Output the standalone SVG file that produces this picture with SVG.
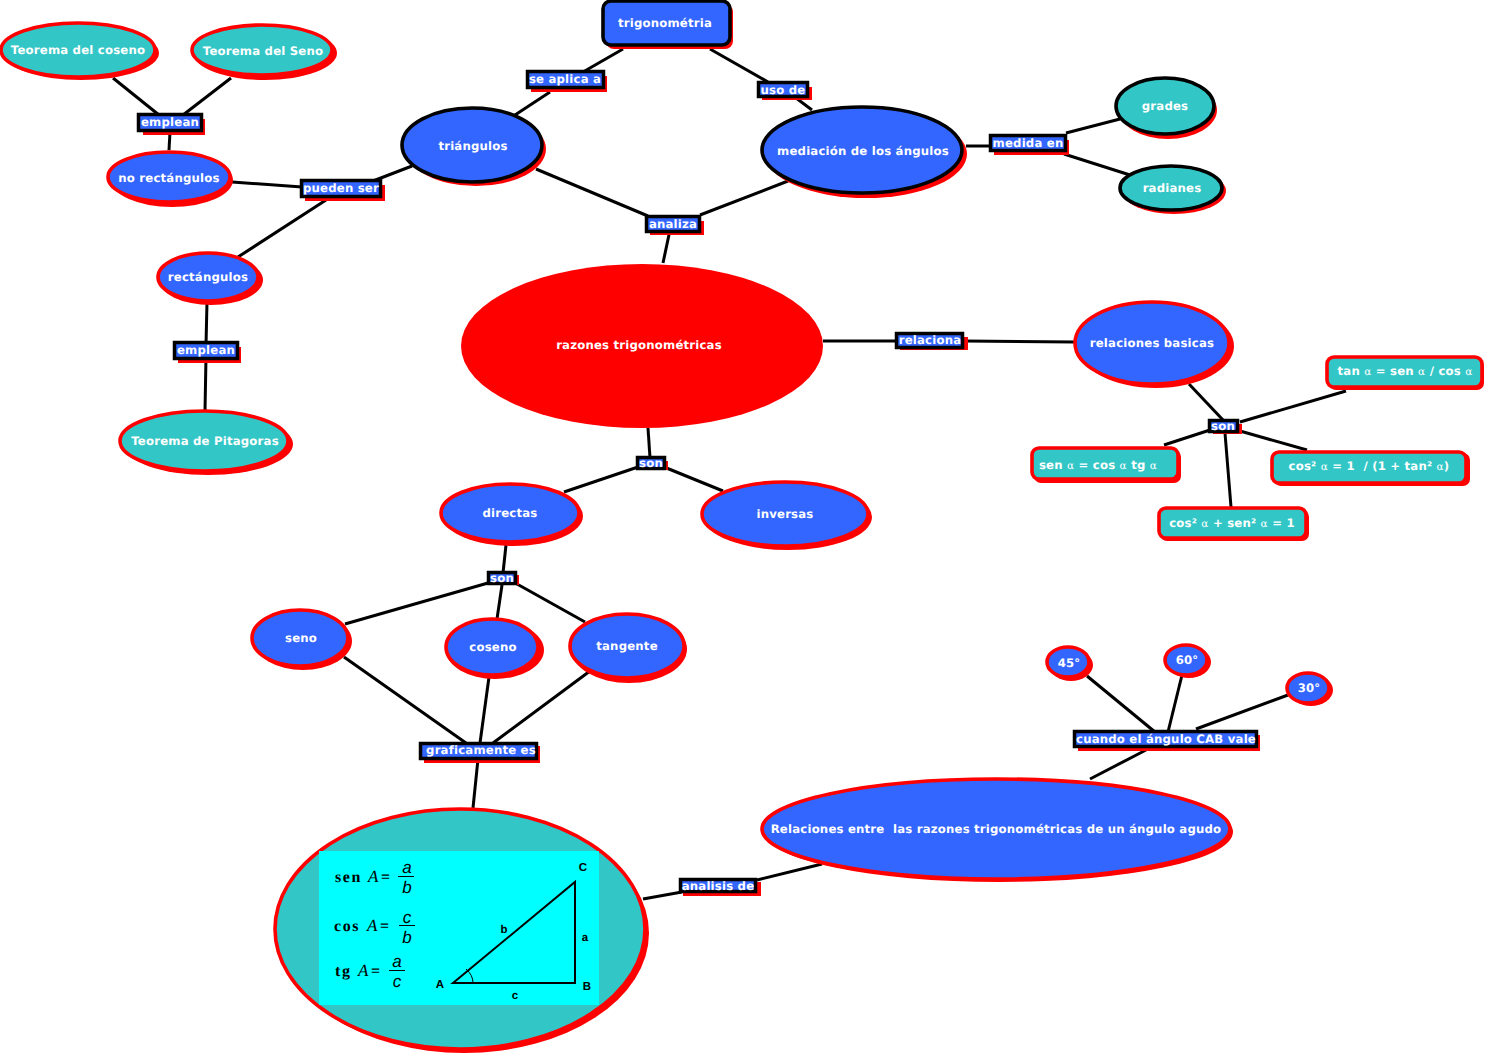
<svg xmlns="http://www.w3.org/2000/svg" width="1489" height="1056" viewBox="0 0 1489 1056">
<style>
text{font-family:"DejaVu Sans","Liberation Sans",sans-serif;font-weight:700;font-size:11.7px;letter-spacing:.2px;fill:#fff;text-anchor:middle;white-space:pre;text-rendering:geometricPrecision}
.c line{stroke:#000;stroke-width:3}
.s{fill:#f00}
.b{fill:#3366ff}
.t{fill:#33c6c6}
.r{stroke:#f00;stroke-width:3.6}
.k{stroke:#000;stroke-width:3.6}
.l{fill:#3366ff;stroke:#000;stroke-width:3.5}
.m text{font-family:"Liberation Serif",serif;font-weight:700;fill:#000;font-size:16px;letter-spacing:1.6px}
.m .i{font-family:"Liberation Sans",sans-serif;font-style:italic;font-weight:400;font-size:17px;letter-spacing:0}
.m .e{font-family:"Liberation Serif",serif;font-style:italic;font-weight:400;font-size:17px;letter-spacing:0;text-anchor:start}
.m .h{font-family:"Liberation Sans",sans-serif;font-weight:700;font-size:11.5px;letter-spacing:0}
.m line{stroke:#000}
.al{font-family:"DejaVu Serif",serif;font-weight:400;font-size:10.5px}
</style>
<g class="c" id="connectors">
<line x1="113" y1="78" x2="159" y2="115"/><line x1="231" y1="78" x2="183" y2="115"/><line x1="170" y1="132" x2="169" y2="150"/>
<line x1="232" y1="182" x2="302" y2="187"/><line x1="373" y1="181" x2="412" y2="166"/><line x1="326" y1="200" x2="238" y2="257"/>
<line x1="207" y1="302" x2="206" y2="345"/><line x1="206" y1="357" x2="205" y2="411"/>
<line x1="623" y1="49" x2="583" y2="72"/><line x1="550" y1="92" x2="515" y2="115"/><line x1="710" y1="49" x2="768" y2="82"/><line x1="796" y1="98" x2="812" y2="110"/>
<line x1="536" y1="169" x2="648" y2="216"/><line x1="700" y1="215" x2="788" y2="181"/><line x1="670" y1="230" x2="663" y2="263"/>
<line x1="966" y1="146" x2="992" y2="146"/><line x1="1066" y1="133" x2="1120" y2="119"/><line x1="1064" y1="154" x2="1130" y2="175"/>
<line x1="823" y1="341" x2="897" y2="341"/><line x1="965" y1="341" x2="1074" y2="342"/>
<line x1="1189" y1="384" x2="1223" y2="420"/><line x1="1240" y1="422" x2="1346" y2="391"/><line x1="1164" y1="445" x2="1210" y2="430"/><line x1="1240" y1="431" x2="1307" y2="450"/><line x1="1225" y1="433" x2="1231" y2="507"/>
<line x1="648" y1="428" x2="650" y2="458"/><line x1="564" y1="492" x2="638" y2="467"/><line x1="664" y1="467" x2="723" y2="491"/>
<line x1="506" y1="545" x2="503" y2="573"/><line x1="345" y1="624" x2="488" y2="583"/><line x1="502" y1="585" x2="497" y2="619"/><line x1="517" y1="584" x2="585" y2="622"/>
<line x1="344" y1="657" x2="466" y2="743"/><line x1="489" y1="677" x2="480" y2="743"/><line x1="590" y1="671" x2="493" y2="743"/><line x1="478" y1="759" x2="473" y2="808"/>
<line x1="643" y1="899" x2="682" y2="892"/><line x1="757" y1="880" x2="822" y2="864"/>
<line x1="1090" y1="779" x2="1146" y2="750"/><line x1="1087" y1="676" x2="1155" y2="732"/><line x1="1182" y1="675" x2="1168" y2="732"/><line x1="1288" y1="695" x2="1196" y2="729"/>
</g>

<g id="n-coseno-t"><ellipse class="s" cx="81" cy="53" rx="78" ry="27"/><ellipse class="t r" cx="78" cy="50" rx="77" ry="27"/><text x="78" y="54">Teorema del coseno</text></g>
<g id="n-seno-t"><ellipse class="s" cx="265" cy="53" rx="72" ry="27"/><ellipse class="t r" cx="262" cy="50" rx="70" ry="25"/><text x="263" y="55">Teorema del Seno</text></g>
<g id="n-no-rect"><ellipse class="s" cx="172" cy="180" rx="61" ry="27"/><ellipse class="b r" cx="169" cy="177" rx="61" ry="25"/><text x="169" y="182">no rectángulos</text></g>
<g id="n-triangulos"><ellipse class="s" cx="476" cy="149" rx="70" ry="37"/><ellipse class="b k" cx="472" cy="145" rx="70" ry="37"/><text x="473" y="150">triángulos</text></g>
<g id="n-trig"><rect class="s" x="606" y="4" width="127" height="45" rx="8"/><rect class="b k" x="603" y="1" width="127" height="44" rx="8"/><text x="665" y="27">trigonométria</text></g>
<g id="n-mediacion"><ellipse class="s" cx="866" cy="154" rx="101" ry="44"/><ellipse class="b k" cx="862" cy="150" rx="100" ry="43"/><text x="863" y="155">mediación de los ángulos</text></g>
<g id="n-grades"><ellipse class="s" cx="1168" cy="110" rx="49" ry="29"/><ellipse class="t k" cx="1165" cy="106" rx="49" ry="28"/><text x="1165" y="110">grades</text></g>
<g id="n-radianes"><ellipse class="s" cx="1174" cy="191" rx="52" ry="23"/><ellipse class="t k" cx="1171" cy="188" rx="51" ry="22"/><text x="1172" y="192">radianes</text></g>
<g id="n-rectangulos"><ellipse class="s" cx="211" cy="280" rx="52" ry="25"/><ellipse class="b r" cx="208" cy="277" rx="50" ry="24"/><text x="208" y="281">rectángulos</text></g>
<g id="n-pitagoras"><ellipse class="s" cx="208" cy="444" rx="85" ry="31"/><ellipse class="t r" cx="204" cy="441" rx="84" ry="30"/><text x="205" y="445">Teorema de Pitagoras</text></g>
<g id="n-razones"><ellipse class="s" cx="642" cy="346" rx="181" ry="82"/><text x="639" y="349">razones trigonométricas</text></g>
<g id="n-relaciones"><ellipse class="s" cx="1156" cy="346" rx="78" ry="42"/><ellipse class="b r" cx="1152" cy="343" rx="77" ry="41"/><text x="1152" y="347">relaciones basicas</text></g>
<g id="n-tan"><rect class="s" x="1329" y="359" width="155" height="31" rx="7"/><rect class="t r" x="1327" y="357" width="155" height="30" rx="7"/><text x="1405" y="375">tan <tspan class="al">α</tspan> = sen <tspan class="al">α</tspan> / cos <tspan class="al">α</tspan></text></g>
<g id="n-sen"><rect class="s" x="1034" y="450" width="147" height="33" rx="7"/><rect class="t r" x="1032" y="448" width="146" height="31" rx="7"/><text x="1098" y="469">sen <tspan class="al">α</tspan> = cos <tspan class="al">α</tspan> tg <tspan class="al">α</tspan></text></g>
<g id="n-cos2"><rect class="s" x="1274" y="453" width="196" height="33" rx="7"/><rect class="t r" x="1272" y="452" width="194" height="31" rx="7"/><text x="1369" y="470">cos² <tspan class="al">α</tspan> = 1  / (1 + tan² <tspan class="al">α</tspan>)</text></g>
<g id="n-pit"><rect class="s" x="1160" y="510" width="149" height="31" rx="7"/><rect class="t r" x="1159" y="508" width="147" height="30" rx="7"/><text x="1232" y="527">cos² <tspan class="al">α</tspan> + sen² <tspan class="al">α</tspan> = 1</text></g>
<g id="n-directas"><ellipse class="s" cx="513" cy="516" rx="70" ry="30"/><ellipse class="b r" cx="510" cy="513" rx="69" ry="29"/><text x="510" y="517">directas</text></g>
<g id="n-inversas"><ellipse class="s" cx="788" cy="517" rx="84" ry="33"/><ellipse class="b r" cx="785" cy="514" rx="83" ry="32"/><text x="785" y="518">inversas</text></g>
<g id="n-seno"><ellipse class="s" cx="303" cy="641" rx="49" ry="29"/><ellipse class="b r" cx="300" cy="638" rx="48" ry="28"/><text x="301" y="642">seno</text></g>
<g id="n-cosenob"><ellipse class="s" cx="495" cy="650" rx="49" ry="29"/><ellipse class="b r" cx="492" cy="647" rx="46" ry="28"/><text x="493" y="651">coseno</text></g>
<g id="n-tangente"><ellipse class="s" cx="629" cy="649" rx="58" ry="34"/><ellipse class="b r" cx="627" cy="646" rx="57" ry="32"/><text x="627" y="650">tangente</text></g>
<g id="n-45"><ellipse class="s" cx="1071" cy="665" rx="22" ry="16"/><ellipse class="b r" cx="1068" cy="662" rx="21" ry="15"/><text x="1069" y="667">45°</text></g>
<g id="n-60"><ellipse class="s" cx="1189" cy="662" rx="22" ry="16"/><ellipse class="b r" cx="1186" cy="660" rx="21" ry="15"/><text x="1187" y="664">60°</text></g>
<g id="n-30"><ellipse class="s" cx="1311" cy="690" rx="22" ry="16"/><ellipse class="b r" cx="1308" cy="688" rx="21" ry="15"/><text x="1309" y="692">30°</text></g>
<g id="n-relang"><ellipse class="s" cx="999" cy="832" rx="234" ry="50"/><ellipse class="b r" cx="996" cy="829" rx="234" ry="50"/><text x="996" y="833">Relaciones entre  las razones trigonométricas de un ángulo agudo</text></g>

<g id="n-figura">
<ellipse class="s" cx="464" cy="933" rx="185" ry="120"/><ellipse class="t r" cx="460" cy="929" rx="185" ry="120"/>
<rect x="319" y="851" width="280" height="154" fill="#00ffff"/>
<g class="m">
<text x="335" y="882" style="text-anchor:start">sen</text><text class="e" x="368" y="882">A</text><text x="381" y="882" style="text-anchor:start">=</text>
<text class="i" x="407" y="873">a</text><line x1="398" y1="876.500" x2="414" y2="876.500"/><text class="i" x="407" y="893">b</text>
<text x="334" y="931" style="text-anchor:start">cos</text><text class="e" x="367" y="931">A</text><text x="380" y="931" style="text-anchor:start">=</text>
<text class="i" x="407" y="923">c</text><line x1="399" y1="925.500" x2="415" y2="925.500"/><text class="i" x="407" y="943">b</text>
<text x="335" y="976" style="text-anchor:start">tg</text><text class="e" x="358" y="976">A</text><text x="371" y="976" style="text-anchor:start">=</text>
<text class="i" x="397" y="967">a</text><line x1="389" y1="970.500" x2="405" y2="970.500"/><text class="i" x="397" y="987">c</text>
<path d="M453 983L575 882V983Z" fill="none" stroke="#000" stroke-width="2"/>
<path d="M466 969Q473 975 473 983" fill="none" stroke="#000"/>
<text class="h" x="440" y="988">A</text><text class="h" x="583" y="871">C</text><text class="h" x="587" y="990">B</text><text class="h" x="504" y="933">b</text><text class="h" x="585" y="941">a</text><text class="h" x="515" y="999">c</text>
</g>
</g>

<g id="l-emplean1"><rect class="s" x="143" y="119" width="62" height="16"/><rect class="l" x="138.500" y="114.500" width="63" height="16"/><text x="170" y="126">emplean</text></g>
<g id="l-pueden"><rect class="s" x="305" y="185" width="80" height="16"/><rect class="l" x="301.500" y="180.500" width="79" height="16"/><text x="341" y="192">pueden ser</text></g>
<g id="l-emplean2"><rect class="s" x="178" y="347" width="63" height="16"/><rect class="l" x="174.500" y="342.500" width="63" height="16"/><text x="206" y="354">emplean</text></g>
<g id="l-aplica"><rect class="s" x="531" y="76" width="76" height="16"/><rect class="l" x="527.500" y="71.500" width="76" height="16"/><text x="565" y="83">se aplica a</text></g>
<g id="l-uso"><rect class="s" x="762" y="87" width="50" height="13"/><rect class="l" x="758.500" y="82.500" width="49" height="14"/><text x="783" y="94">uso de</text></g>
<g id="l-medida"><rect class="s" x="994" y="140" width="75" height="15"/><rect class="l" x="990.500" y="135.500" width="75" height="15"/><text x="1028" y="147">medida en</text></g>
<g id="l-analiza"><rect class="s" x="650" y="221" width="54" height="14"/><rect class="l" x="646.500" y="216.500" width="53" height="15"/><text x="673" y="228">analiza</text></g>
<g id="l-relaciona"><rect class="s" x="900" y="337" width="68" height="13"/><rect class="l" x="896.500" y="333.500" width="66" height="14"/><text x="930" y="344">relaciona</text></g>
<g id="l-son1"><rect class="s" x="1213" y="424" width="29" height="10"/><rect class="l" x="1209.500" y="420.500" width="28" height="11"/><text x="1223" y="430">son</text></g>
<g id="l-son2"><rect class="s" x="640" y="461" width="28" height="9"/><rect class="l" x="637.500" y="457.500" width="27" height="11"/><text x="651" y="467">son</text></g>
<g id="l-son3"><rect class="s" x="491" y="575" width="28" height="10"/><rect class="l" x="488.500" y="572.500" width="27" height="11"/><text x="502" y="582">son</text></g>
<g id="l-graf"><rect class="s" x="424" y="746" width="116" height="17"/><rect class="l" x="420.500" y="743.500" width="116" height="15"/><text x="481" y="754">graficamente es</text></g>
<g id="l-analisis"><rect class="s" x="683" y="882" width="78" height="14"/><rect class="l" x="680.500" y="879.500" width="75" height="12"/><text x="718" y="890">analisis de</text></g>
<g id="l-cuando"><rect class="s" x="1078" y="735" width="182" height="16"/><rect class="l" x="1074.500" y="731.500" width="182" height="15"/><text x="1166" y="743">cuando el ángulo CAB vale</text></g>
</svg>
